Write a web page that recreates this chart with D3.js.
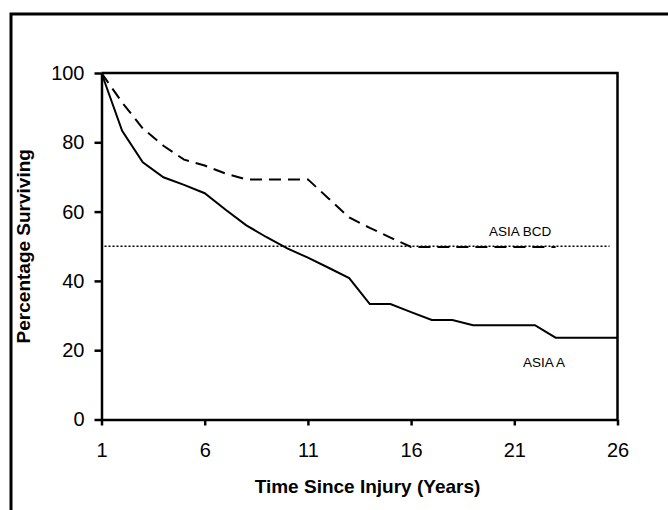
<!DOCTYPE html>
<html>
<head>
<meta charset="utf-8">
<script src="https://cdn.jsdelivr.net/npm/d3@7"></script>
<style>
  body { margin: 0; background: #fff; }
  text { font-family: "Liberation Sans", Arial, sans-serif; }
</style>
</head>
<body>
<div id="plot"></div>
<script>
// Survival data
const years = [1, 2, 3, 4, 5, 6, 7, 8, 9, 10, 11, 12, 13, 14, 15, 16, 17, 18, 19, 20, 21, 22, 23, 24, 25, 26];
const asiaA = [100, 83.3, 74.2, 69.9, 67.7, 65.3, 60.6, 56.1, 52.6, 49.4, 46.7, 43.8, 40.8, 33.3, 33.3, 31.0, 28.7, 28.7, 27.2, 27.2, 27.2, 27.2, 23.6, 23.6, 23.6, 23.6];
const asiaBCD = [100, 91.5, 84.0, 79.0, 75.0, 73.3, 71.0, 69.3, 69.3, 69.3, 69.3, 63.8, 58.3, 55.3, 52.5, 49.8, 49.8, 49.8, 49.8, 49.8, 49.8, 49.8, 49.8];
const halfLine = 50;
const xTicks = [1, 6, 11, 16, 21, 26];
const yTicks = [0, 20, 40, 60, 80, 100];
const seriesLabels = [
  { name: "ASIA BCD", x: 21.28, y: 54.4 },
  { name: "ASIA A", x: 22.44, y: 16.4 }
];

const W = 668, H = 510;
const plot = { left: 101.5, top: 73, right: 617.5, bottom: 419.5 };

const svg = d3.select("#plot")
  .append("svg")
  .attr("width", W)
  .attr("height", H);

// outer frame (runs off the right and bottom edges)
svg.append("path")
  .attr("d", `M11,${H + 5} V14 H${W + 5}`)
  .attr("fill", "none")
  .attr("stroke", "#000")
  .attr("stroke-width", 3);

const x = d3.scaleLinear().domain([1, 26]).range([plot.left, plot.right]);
const y = d3.scaleLinear().domain([0, 100]).range([plot.bottom, plot.top]);

// plot box: top and right sides
svg.append("path")
  .attr("d", `M${plot.left},${plot.top} H${plot.right} V${plot.bottom}`)
  .attr("fill", "none")
  .attr("stroke", "#000")
  .attr("stroke-width", 2.5);

// x axis
const gx = svg.append("g")
  .attr("transform", `translate(0, ${plot.bottom})`)
  .call(d3.axisBottom(x).tickValues(xTicks).tickSize(6).tickSizeOuter(0).tickPadding(17));

// y axis
const gy = svg.append("g")
  .attr("transform", `translate(${plot.left}, 0)`)
  .call(d3.axisLeft(y).tickValues(yTicks).tickSize(7).tickSizeOuter(0).tickPadding(10));

[gx, gy].forEach(g => {
  g.select(".domain").attr("stroke-width", 2.5);
  g.selectAll(".tick line").attr("stroke-width", 2.5);
  g.selectAll(".tick text")
    .style("font-family", "'Liberation Sans', Arial, sans-serif")
    .style("font-size", "20px")
    .attr("fill", "#000");
});

// axis titles
svg.append("text")
  .attr("x", (plot.left + plot.right) / 2 + 8)
  .attr("y", 493)
  .attr("text-anchor", "middle")
  .style("font-size", "19px")
  .style("font-weight", "bold")
  .text("Time Since Injury (Years)");

svg.append("text")
  .attr("transform", `translate(29.5, ${(plot.top + plot.bottom) / 2}) rotate(-90)`)
  .attr("text-anchor", "middle")
  .style("font-size", "19px")
  .style("font-weight", "bold")
  .text("Percentage Surviving");

// 50% reference line
svg.append("line")
  .attr("x1", x(1) + 3)
  .attr("x2", x(26) - 8)
  .attr("y1", y(halfLine))
  .attr("y2", y(halfLine))
  .attr("stroke", "#000")
  .attr("stroke-width", 1.5)
  .attr("stroke-dasharray", "2,2");

const line = d3.line()
  .x((d, i) => x(years[i]))
  .y(d => y(d));

// ASIA BCD (dashed)
svg.append("path")
  .datum(asiaBCD)
  .attr("d", line)
  .attr("fill", "none")
  .attr("stroke", "#000")
  .attr("stroke-width", 2)
  .attr("stroke-dasharray", "12,7");

// ASIA A (solid)
svg.append("path")
  .datum(asiaA)
  .attr("d", line)
  .attr("fill", "none")
  .attr("stroke", "#000")
  .attr("stroke-width", 2);

// series labels
svg.selectAll(".series-label")
  .data(seriesLabels)
  .enter()
  .append("text")
  .attr("class", "series-label")
  .attr("x", d => x(d.x))
  .attr("y", d => y(d.y))
  .attr("dy", "0.35em")
  .attr("text-anchor", "middle")
  .style("font-size", "13.5px")
  .text(d => d.name);
</script>
</body>
</html>
